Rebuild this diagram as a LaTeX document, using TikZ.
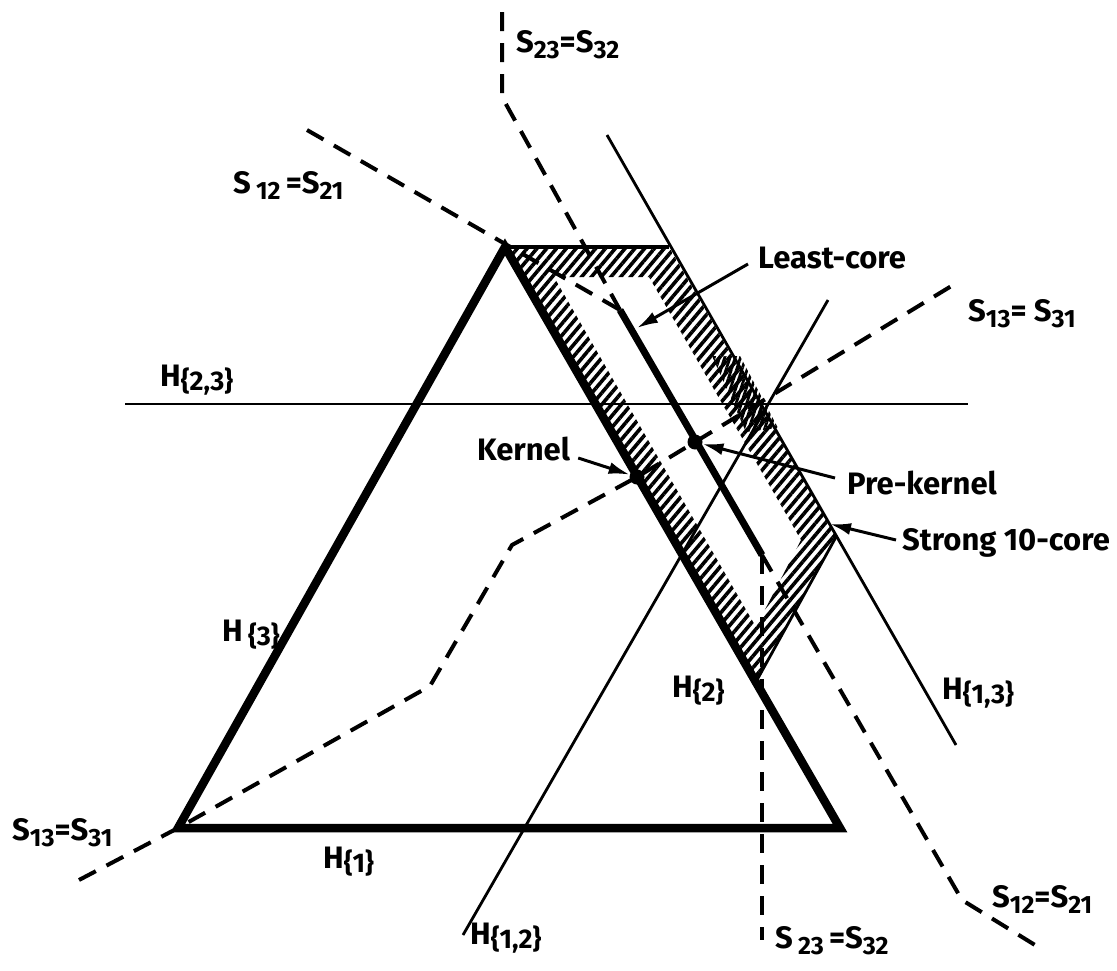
\documentclass[tikz,border=0pt]{standalone}
\usepackage{fontspec}
\setmainfont{Fira Sans}
\usetikzlibrary{arrows.meta,patterns.meta}
\newcommand\lsub[1]{\raisebox{-6pt}{\fontsize{25}{25}\selectfont #1}}
\newcommand\hset[1]{\raisebox{-4pt}{\fontsize{27}{27}\selectfont\{#1\}}}
\begin{document}
\begin{tikzpicture}[x=1pt,y=-1pt,
  lbl/.style={font=\fontsize{31}{31}\selectfont\bfseries, inner sep=0pt, anchor=base west},
  tri/.style={line width=8.5pt, line join=miter},
  thin/.style={line width=2.8pt},
  dsh/.style={line width=4pt, dash pattern=on 19pt off 12pt},
  core/.style={line width=7pt},
  arr/.style={line width=3pt, -{Latex[length=21pt,width=12pt]}},
  hatch/.style={pattern={Lines[angle=50,distance=7.5pt,line width=3.6pt]}},
  dot/.style={circle, fill=black, inner sep=0pt, minimum size=15pt}]
\useasboundingbox (0,0) rectangle (1117,970);
% key points
\coordinate (A) at (178,828);
\coordinate (B) at (840,828);
\coordinate (C) at (505,247);
\coordinate (T) at (669,247);
\coordinate (R) at (836,537);
\coordinate (Bt) at (757,680);
\coordinate (I1) at (554,277);
\coordinate (I2) at (649,277);
\coordinate (I3) at (801,540);
\coordinate (I4) at (756,627);
% hatched strong 10-core band
\fill[hatch, even odd rule] (C)--(T)--(R)--(Bt)--cycle (I1)--(I2)--(I3)--(I4)--cycle;
\begin{scope}
  \clip (712,356)--(740,356)--(778,428)--(746,432)--cycle;
  \fill[pattern={Lines[angle=72,distance=5pt,line width=2.8pt]}] (700,340) rectangle (790,440);
\end{scope}
\draw[line width=4.5pt] (C)--(T);
\draw[thin] (R)--(Bt);
% thin lines H
\coordinate (h23a) at (125,404);
\coordinate (h23b) at (968,404);
\draw[thin] (h23a)--(h23b);
\coordinate (h13a) at (607,135);
\coordinate (h13b) at (956,745);
\draw[thin] (h13a)--(h13b);
\coordinate (h12a) at (463,935);
\coordinate (h12b) at (828,300);
\draw[thin] (h12a)--(h12b);
% triangle
\draw[tri] (A)--(B)--(C)--cycle;
% S12 = S21 line with least-core
\coordinate (P1) at (307,130);
\coordinate (P2) at (620,310);
\coordinate (P3) at (762,555);
\coordinate (P4) at (962,900);
\coordinate (P5) at (1035,945);
\draw[dsh] (P1)--(P2);
\draw[dsh] (P3)--(P4)--(P5);
\draw[core] (P2)--(P3);
% S23 = S32
\coordinate (Q1) at (502,12);
\coordinate (Q2) at (502,97);
\coordinate (Q3) at (762,940);
\draw[dsh] (Q1)--(Q2)--(P2);
\draw[dsh] (P3)--(Q3);
% S13 = S31
\coordinate (R1) at (79,880);
\coordinate (R2) at (430,686);
\coordinate (R3) at (512,545);
\coordinate (R5) at (958,282);
\node[dot] (K) at (637,477) {};
\node[dot] (PK) at (695,442) {};
\draw[dsh] (R1)--(A)--(R2)--(R3)--(K.center)--(PK.center)--(R5);
% labels
\node[lbl] (s23t) at (516,52) {S\lsub{23}=S\lsub{32}};
\node[lbl] (s12t) at (233,193) {S\,\lsub{12}\,=S\lsub{21}};
\node[lbl] (s13t) at (968,321) {S\lsub{13}= S\lsub{31}};
\node[lbl] (h23) at (160,386) {H\hset{2,3}};
\node[lbl] (h3) at (222,641) {H\,\hset{3}};
\node[lbl] (h2) at (672,697) {H\hset{2}};
\node[lbl] (h13) at (942,699) {H\hset{1,3}};
\node[lbl] (h1) at (323,868) {H\hset{1}};
\node[lbl] (h12) at (470,944) {H\hset{1,2}};
\node[lbl] (s23b) at (775,948) {S\,\lsub{23}\,=S\lsub{32}};
\node[lbl] (s12b) at (992,907) {S\lsub{12}=S\lsub{21}};
\node[lbl] (s13b) at (12,840) {S\lsub{13}=S\lsub{31}};
\node[lbl] (lc) at (758,268) {Least-core};
\node[lbl] (kn) at (477,460) {Kernel};
\node[lbl] (pk) at (847,494) {Pre-kernel};
\node[lbl] (sc) at (902,550) {Strong 10-core};
% arrows
\coordinate (lctip) at (637,328);
\coordinate (sctip) at (830,524);
\draw[arr] (lc.base west) ++(-10,-4) -- (lctip);
\draw[arr] (kn.base east) ++(8,-2) -- (K);
\draw[arr] (pk.base west) ++(-12,-16) -- (PK);
\draw[arr] (sc.base west) ++(-6,-10) -- (sctip);
\end{tikzpicture}
\end{document}
